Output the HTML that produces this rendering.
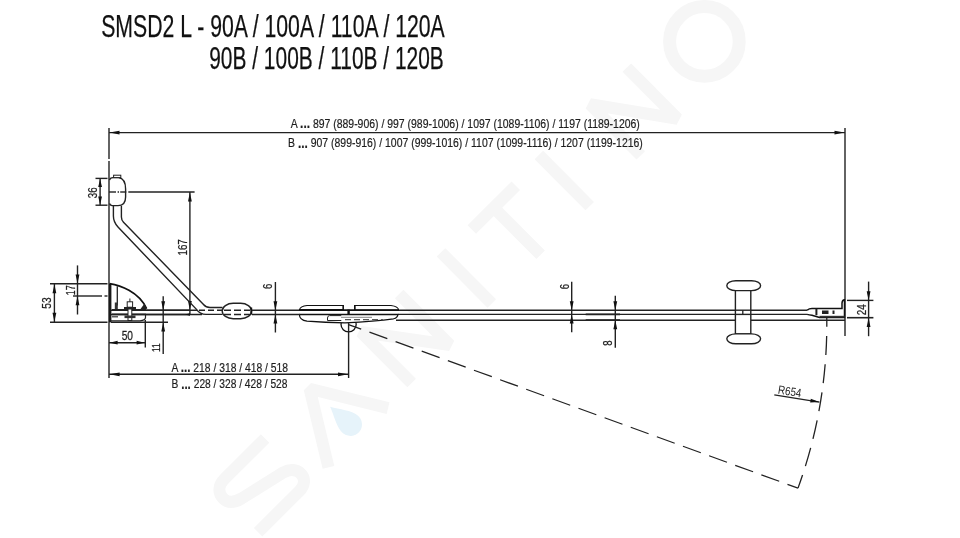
<!DOCTYPE html>
<html><head><meta charset="utf-8"><style>
html,body{margin:0;padding:0;background:#fff;}
svg{display:block;filter:blur(0.3px);font-family:"Liberation Sans",sans-serif;}
</style></head><body>
<svg width="960" height="538" viewBox="0 0 960 538">
<rect width="960" height="538" fill="#fff"/>
<g fill="none" stroke="#f6f6f6" stroke-width="12" stroke-linejoin="bevel">
<path transform="translate(260.0,483.0) rotate(-44.82)" d="M35,-28 L-22,-28 C-32,-28 -37,-22 -37,-15 C-37,-8 -32,-4 -24,-2 L24,9 C31,11 35.5,16 35.5,22 C35.5,29 30,33.5 22,33.5 L-36,33.5"/>
<path transform="translate(334.3,413.6) rotate(-44.82)" d="M-42,34 L0,-35 L42,34"/>
<path transform="translate(405.4,338.5) rotate(-44.82)" d="M-27,36 L-27,-36 L27,36 L27,-36"/>
<path transform="translate(466.4,277.9) rotate(-44.82)" d="M0,-36 L0,36"/>
<path transform="translate(515.3,229.3) rotate(-44.82)" d="M-31,-30.5 L31,-30.5 M0,-30.5 L0,36"/>
<path transform="translate(564.3,180.6) rotate(-44.82)" d="M0,-36 L0,36"/>
<path transform="translate(633.8,111.5) rotate(-44.82)" d="M-26,36 L-26,-36 L26,36 L26,-36"/>
<circle cx="704.4" cy="41.4" r="34.8" stroke-width="13"/>
</g>
<path d="M0,-27 C4,-18 11.5,-9 11.5,0 A11.5,11.5 0 0 1 -11.5,0 C-11.5,-9 -4,-18 0,-27 Z" fill="#e6f3fa" transform="translate(350.5,424.5) rotate(-49)"/>
<g fill="#111" stroke="#111" stroke-width="0.25">
<text x="101.2" y="37" font-size="30.5" text-anchor="start" textLength="343.6" lengthAdjust="spacingAndGlyphs" >SMSD2 L - 90A / 100A / 110A / 120A</text>
<text x="209.2" y="69" font-size="30.5" text-anchor="start" textLength="234.6" lengthAdjust="spacingAndGlyphs" >90B / 100B / 110B / 120B</text>
</g>
<line x1="109" y1="128" x2="109" y2="159" stroke="#222" stroke-width="1.4" />
<line x1="109" y1="161" x2="109" y2="378" stroke="#222" stroke-width="1.4" />
<line x1="845" y1="128" x2="845" y2="336" stroke="#222" stroke-width="1.4" />
<line x1="109" y1="132.6" x2="845" y2="132.6" stroke="#222" stroke-width="1.4" />
<polygon points="109.50,132.60 119.50,130.70 119.50,134.50" fill="#111"/>
<polygon points="844.50,132.60 834.50,134.50 834.50,130.70" fill="#111"/>
<g fill="#1e1e1e" stroke="#1e1e1e" stroke-width="0.2">
<text x="290.8" y="127.7" font-size="12.3" text-anchor="start" textLength="349" lengthAdjust="spacingAndGlyphs" >A <tspan font-weight="bold" font-size="14" dy="0.7">...</tspan><tspan dy="-0.7"> </tspan>897 (889-906) / 997 (989-1006) / 1097 (1089-1106) / 1197 (1189-1206)</text>
<text x="288" y="147" font-size="12.3" text-anchor="start" textLength="354.8" lengthAdjust="spacingAndGlyphs" >B <tspan font-weight="bold" font-size="14" dy="0.7">...</tspan><tspan dy="-0.7"> </tspan>907 (899-916) / 1007 (999-1016) / 1107 (1099-1116) / 1207 (1199-1216)</text>
</g>
<path d="M109.5,180 Q110,177.6 113,177.6 L118.5,177.6 Q125.6,178.5 125.6,189 L125.6,197 Q125.6,205.6 118,205.6 L112,205.6 Q110,205.4 109.5,203.5" fill="none" stroke="#222" stroke-width="1.4" />
<rect x="113.6" y="175.2" width="7.2" height="2.4" fill="#fff" stroke="#222" stroke-width="1"/>
<line x1="95.5" y1="178.4" x2="107.5" y2="178.4" stroke="#222" stroke-width="1.4" />
<line x1="95.5" y1="205.2" x2="107.5" y2="205.2" stroke="#222" stroke-width="1.4" />
<line x1="100.1" y1="178.4" x2="100.1" y2="205.2" stroke="#222" stroke-width="1.4" />
<polygon points="100.10,179.00 102.00,187.00 98.20,187.00" fill="#111"/>
<polygon points="100.10,204.60 98.20,196.60 102.00,196.60" fill="#111"/>
<line x1="109" y1="192" x2="116" y2="192" stroke="#222" stroke-width="1.4" />
<line x1="117.6" y1="192" x2="119" y2="192" stroke="#222" stroke-width="1.4" />
<line x1="120.2" y1="192" x2="126.3" y2="192" stroke="#222" stroke-width="1.4" />
<line x1="128.3" y1="192" x2="194.6" y2="192" stroke="#222" stroke-width="1.4" />
<line x1="189.9" y1="192" x2="189.9" y2="314.5" stroke="#222" stroke-width="1.4" />
<polygon points="189.90,192.50 191.80,201.50 188.00,201.50" fill="#111"/>
<polygon points="189.90,310.00 188.00,301.00 191.80,301.00" fill="#111"/>
<path d="M113.4,206 L113.4,216 Q113.4,222 118,227 L196.7,309.6 Q200,314.4 206,314.4 L222.5,314.4" fill="none" stroke="#222" stroke-width="1.4" />
<path d="M121.4,206 L121.4,217 Q121.4,220 123.5,222.2 L203.5,304.5 Q206,307.5 210,307.5 L222.5,307.5" fill="none" stroke="#222" stroke-width="1.4" />
<rect x="222.2" y="303.3" width="29.4" height="15.4" rx="11" ry="7.7" fill="#fff" stroke="#222" stroke-width="1.4"/>
<line x1="224" y1="310.3" x2="250" y2="310.3" stroke="#222" stroke-width="1.4" stroke-dasharray="7,3"/>
<line x1="224" y1="314.5" x2="250" y2="314.5" stroke="#222" stroke-width="1.4" stroke-dasharray="7,3"/>
<rect x="250.4" y="307.5" width="1.8" height="7" fill="#111"/>
<line x1="111" y1="310.3" x2="197" y2="310.3" stroke="#222" stroke-width="1.4" />
<line x1="111" y1="314.5" x2="202" y2="314.5" stroke="#222" stroke-width="1.4" />
<line x1="199" y1="310.3" x2="222" y2="310.3" stroke="#222" stroke-width="1.4" stroke-dasharray="6,3"/>
<line x1="252" y1="310.3" x2="300" y2="310.3" stroke="#222" stroke-width="1.4" />
<line x1="252" y1="314.5" x2="300" y2="314.5" stroke="#222" stroke-width="1.4" />
<line x1="398" y1="310.2" x2="808" y2="310.2" stroke="#222" stroke-width="1.4" />
<line x1="398" y1="314.4" x2="808" y2="314.4" stroke="#222" stroke-width="1.4" />
<line x1="396" y1="320.2" x2="735.5" y2="320.2" stroke="#222" stroke-width="1.4" />
<line x1="750.8" y1="320.2" x2="845" y2="320.2" stroke="#222" stroke-width="1.4" />
<rect x="109" y="284" width="2.4" height="38.4" fill="#1a1a1a"/>
<path d="M109.5,283.7 C120,285.3 138.5,291.5 146.6,308.6" fill="none" stroke="#111" stroke-width="1.7" />
<line x1="117.3" y1="286.3" x2="117.3" y2="305.5" stroke="#222" stroke-width="1.3" />
<rect x="114.8" y="302.5" width="3" height="6.5" fill="#333"/>
<polygon points="140.5,309 146.8,309 144.5,303.5" fill="#222"/>
<path d="M111,320.8 L140,320.8 Q145.5,320.3 145.5,317.5 L145.5,314.3" fill="none" stroke="#222" stroke-width="1.2" />
<line x1="112" y1="316.8" x2="118" y2="316.8" stroke="#333" stroke-width="1.2" />
<line x1="112" y1="309.8" x2="146" y2="309.8" stroke="#222" stroke-width="1.7" />
<line x1="112" y1="314.3" x2="146" y2="314.3" stroke="#222" stroke-width="1.7" />
<rect x="127.2" y="301.8" width="5.4" height="5.4" fill="#fff" stroke="#222" stroke-width="1"/>
<line x1="129.9" y1="298.5" x2="129.9" y2="301.8" stroke="#222" stroke-width="1" />
<rect x="124" y="307" width="12" height="2.2" fill="#222"/>
<rect x="128" y="309" width="3.8" height="11.5" fill="#fff" stroke="#222" stroke-width="1"/>
<rect x="124.5" y="315.5" width="11" height="2.6" fill="#333"/>
<line x1="146" y1="310.3" x2="190" y2="310.3" stroke="#222" stroke-width="1.4" />
<line x1="146" y1="314.5" x2="190" y2="314.5" stroke="#222" stroke-width="1.4" />
<polygon points="185.00,314.50 190.00,313.30 190.00,315.70" fill="#111"/>
<line x1="50" y1="283.7" x2="107.5" y2="283.7" stroke="#222" stroke-width="1.4" />
<line x1="50" y1="322.2" x2="107.5" y2="322.2" stroke="#222" stroke-width="1.4" />
<line x1="111" y1="322.2" x2="168" y2="322.2" stroke="#222" stroke-width="1.4" />
<line x1="54.4" y1="283.7" x2="54.4" y2="322.2" stroke="#222" stroke-width="1.4" />
<polygon points="54.40,284.20 56.30,293.20 52.50,293.20" fill="#111"/>
<polygon points="54.40,321.70 52.50,312.70 56.30,312.70" fill="#111"/>
<line x1="77.5" y1="265.4" x2="77.5" y2="314.5" stroke="#222" stroke-width="1.4" />
<polygon points="77.50,283.40 75.60,274.40 79.40,274.40" fill="#111"/>
<polygon points="77.50,296.20 79.40,305.20 75.60,305.20" fill="#111"/>
<line x1="73" y1="296" x2="102" y2="296" stroke="#222" stroke-width="1.4" />
<line x1="104.5" y1="296" x2="107.5" y2="296" stroke="#222" stroke-width="1.4" />
<line x1="145.3" y1="320" x2="145.3" y2="347.5" stroke="#222" stroke-width="1.4" />
<line x1="109" y1="342.7" x2="145.3" y2="342.7" stroke="#222" stroke-width="1.4" />
<polygon points="109.60,342.70 117.60,340.80 117.60,344.60" fill="#111"/>
<polygon points="144.60,342.70 136.60,344.60 136.60,340.80" fill="#111"/>
<line x1="163.2" y1="296.2" x2="163.2" y2="354" stroke="#222" stroke-width="1.4" />
<polygon points="163.20,310.20 161.30,301.20 165.10,301.20" fill="#111"/>
<polygon points="163.20,322.60 165.10,331.60 161.30,331.60" fill="#111"/>
<g transform="translate(93.15,192.75) rotate(-90) scale(0.8263,1)"><text x="-6.56" y="4.08" font-size="11.86" fill="#1e1e1e" stroke="#1e1e1e" stroke-width="0.25">36</text></g>
<g transform="translate(182.5,247.25) rotate(-90) scale(0.8254,1)"><text x="-10.05" y="4.08" font-size="11.86" fill="#1e1e1e" stroke="#1e1e1e" stroke-width="0.25">167</text></g>
<g transform="translate(47.3,303.05) rotate(-90) scale(0.8606,1)"><text x="-6.58" y="4.08" font-size="11.86" fill="#1e1e1e" stroke="#1e1e1e" stroke-width="0.25">53</text></g>
<g transform="translate(70.9,290.25) rotate(-90) scale(0.7404,1)"><text x="-6.78" y="4.10" font-size="11.92" fill="#1e1e1e" stroke="#1e1e1e" stroke-width="0.25">17</text></g>
<g transform="translate(127.35,335.9) rotate(0) scale(0.8366,1)"><text x="-6.76" y="4.18" font-size="12.15" fill="#1e1e1e" stroke="#1e1e1e" stroke-width="0.25">50</text></g>
<g transform="translate(156.35,347.3) rotate(-90) scale(0.7143,1)"><text x="-6.63" y="4.00" font-size="11.63" fill="#1e1e1e" stroke="#1e1e1e" stroke-width="0.25">11</text></g>
<g transform="translate(268.25,286.35) rotate(-90) scale(0.8037,1)"><text x="-3.34" y="4.08" font-size="11.86" fill="#1e1e1e" stroke="#1e1e1e" stroke-width="0.25">6</text></g>
<g transform="translate(564.55,286.5) rotate(-90) scale(0.8037,1)"><text x="-3.34" y="4.08" font-size="11.86" fill="#1e1e1e" stroke="#1e1e1e" stroke-width="0.25">6</text></g>
<g transform="translate(608.35,343) rotate(-90) scale(0.8083,1)"><text x="-3.30" y="4.08" font-size="11.86" fill="#1e1e1e" stroke="#1e1e1e" stroke-width="0.25">8</text></g>
<g transform="translate(861.65,309.75) rotate(-90) scale(0.7941,1)"><text x="-6.98" y="4.30" font-size="12.32" fill="#1e1e1e" stroke="#1e1e1e" stroke-width="0.25">24</text></g>
<line x1="275.4" y1="282" x2="275.4" y2="332.5" stroke="#222" stroke-width="1.4" />
<polygon points="275.40,310.20 273.50,301.20 277.30,301.20" fill="#111"/>
<polygon points="275.40,314.60 277.30,323.60 273.50,323.60" fill="#111"/>
<line x1="571.7" y1="281.7" x2="571.7" y2="332.2" stroke="#222" stroke-width="1.4" />
<polygon points="571.70,310.20 569.80,301.20 573.60,301.20" fill="#111"/>
<polygon points="571.70,314.50 573.60,323.50 569.80,323.50" fill="#111"/>
<line x1="615.3" y1="295.8" x2="615.3" y2="347.7" stroke="#222" stroke-width="1.4" />
<polygon points="615.30,310.20 613.40,301.20 617.20,301.20" fill="#111"/>
<polygon points="615.30,320.30 617.20,329.30 613.40,329.30" fill="#111"/>
<line x1="585.7" y1="314.4" x2="620" y2="314.4" stroke="#222" stroke-width="1.8" />
<line x1="585.7" y1="320.1" x2="620" y2="320.1" stroke="#222" stroke-width="1.8" />
<circle cx="348.6" cy="324.3" r="7.6" fill="none" stroke="#111" stroke-width="1.3"/>
<path d="M343.2,305.5 L307,305.5 Q300.5,306.2 299.5,309.6 L343.2,309.6 Z" fill="#fff" stroke="#111" stroke-width="1.1" />
<path d="M354.6,305.5 L391,305.5 Q398.3,306.3 398.6,310 L354.6,310 Z" fill="#fff" stroke="#111" stroke-width="1.1" />
<path d="M299.4,314.6 Q299.4,320.3 307,321.2 Q325,322.6 345,322.9 Q375,321.3 393.5,318.8 Q397.8,317.5 397.8,314.4" fill="#fff" stroke="#111" stroke-width="1.2" />
<line x1="299.5" y1="310.1" x2="399" y2="310.1" stroke="#111" stroke-width="1.7" />
<line x1="299.5" y1="314.5" x2="398.5" y2="314.5" stroke="#111" stroke-width="1.7" />
<rect x="347.4" y="309.6" width="2.4" height="5.2" fill="#111"/>
<rect x="342.6" y="305" width="1.3" height="5" fill="#111"/>
<rect x="354" y="305" width="1.6" height="5" fill="#111"/>
<path d="M341.3,315.6 L329.5,315.6 Q327.5,315.8 327.5,318 L327.5,320.5 L341.3,320.5" fill="#fff" stroke="#222" stroke-width="1"/>
<line x1="345" y1="319.6" x2="383" y2="319.6" stroke="#555" stroke-width="1.1" stroke-dasharray="6,3"/>
<line x1="341" y1="317.3" x2="372" y2="317.3" stroke="#777" stroke-width="0.9" />
<line x1="348.6" y1="322.5" x2="348.6" y2="378" stroke="#222" stroke-width="1.4" />
<line x1="109" y1="374.3" x2="348.6" y2="374.3" stroke="#222" stroke-width="1.4" />
<polygon points="109.60,374.30 119.60,372.40 119.60,376.20" fill="#111"/>
<polygon points="348.00,374.30 338.00,376.20 338.00,372.40" fill="#111"/>
<g fill="#1e1e1e" stroke="#1e1e1e" stroke-width="0.2">
<text x="171.5" y="371.7" font-size="12.3" text-anchor="start" textLength="116.5" lengthAdjust="spacingAndGlyphs" >A <tspan font-weight="bold" font-size="14" dy="0.7">...</tspan><tspan dy="-0.7"> </tspan>218 / 318 / 418 / 518</text>
<text x="171.5" y="387.9" font-size="12.3" text-anchor="start" textLength="116" lengthAdjust="spacingAndGlyphs" >B <tspan font-weight="bold" font-size="14" dy="0.7">...</tspan><tspan dy="-0.7"> </tspan>228 / 328 / 428 / 528</text>
</g>
<path d="M826.75,317.00 A478.31,478.31 0 0 1 798,488.1" fill="none" stroke="#222" stroke-width="1.3" stroke-dasharray="19,9.3" stroke-dashoffset="9.3"/>
<path d="M798,488.1 L348.5,324.6" fill="none" stroke="#222" stroke-width="1.3" stroke-dasharray="19,8.8" stroke-dashoffset="7.8"/>
<line x1="774.3" y1="394.9" x2="819.4" y2="402.1" stroke="#222" stroke-width="1.4" />
<polygon points="819.40,402.10 810.21,402.56 810.81,398.80" fill="#111"/>
<g transform="translate(777.5,393.6) rotate(9)"><text x="0" y="0" font-size="12" fill="#1e1e1e" textLength="23.5" lengthAdjust="spacingAndGlyphs">R654</text></g>
<rect x="735.4" y="289.5" width="15.4" height="44.5" fill="#fff" stroke="#222" stroke-width="1.4"/>
<rect x="726.8" y="280.8" width="33.8" height="9.8" rx="9" ry="4.9" fill="#fff" stroke="#222" stroke-width="1.4"/>
<rect x="726.8" y="333.9" width="33.8" height="9.8" rx="9" ry="4.9" fill="#fff" stroke="#222" stroke-width="1.4"/>
<line x1="735.4" y1="310.2" x2="750.8" y2="310.2" stroke="#222" stroke-width="1.4" />
<line x1="735.4" y1="314.4" x2="750.8" y2="314.4" stroke="#222" stroke-width="1.4" />
<line x1="742.8" y1="310.2" x2="742.8" y2="314.4" stroke="#222" stroke-width="1.3" />
<path d="M807.2,310.2 Q809,308.6 812,308.6 L842,308.6 L842,303 Q842.3,300 844.5,299.8 L844.5,317.4 L819.5,317.4 L812,315.2 Q809,315 807.2,314.4" fill="#fff" stroke="#111" stroke-width="1.5" />
<line x1="816.4" y1="308.6" x2="816.4" y2="315.2" stroke="#222" stroke-width="2" />
<rect x="822" y="310.5" width="6.5" height="3.5" fill="#222"/>
<rect x="832.5" y="310.5" width="2" height="3.5" fill="#222"/>
<line x1="819.5" y1="316.6" x2="844.5" y2="316.6" stroke="#333" stroke-width="1.6" />
<line x1="847" y1="300.4" x2="873.4" y2="300.4" stroke="#222" stroke-width="1.4" />
<line x1="847" y1="317.7" x2="873.4" y2="317.7" stroke="#222" stroke-width="1.6" />
<line x1="868.6" y1="281.6" x2="868.6" y2="336.2" stroke="#222" stroke-width="1.4" />
<polygon points="868.60,300.20 866.70,291.20 870.50,291.20" fill="#111"/>
<polygon points="868.60,317.90 870.50,326.90 866.70,326.90" fill="#111"/>
</svg>
</body></html>
